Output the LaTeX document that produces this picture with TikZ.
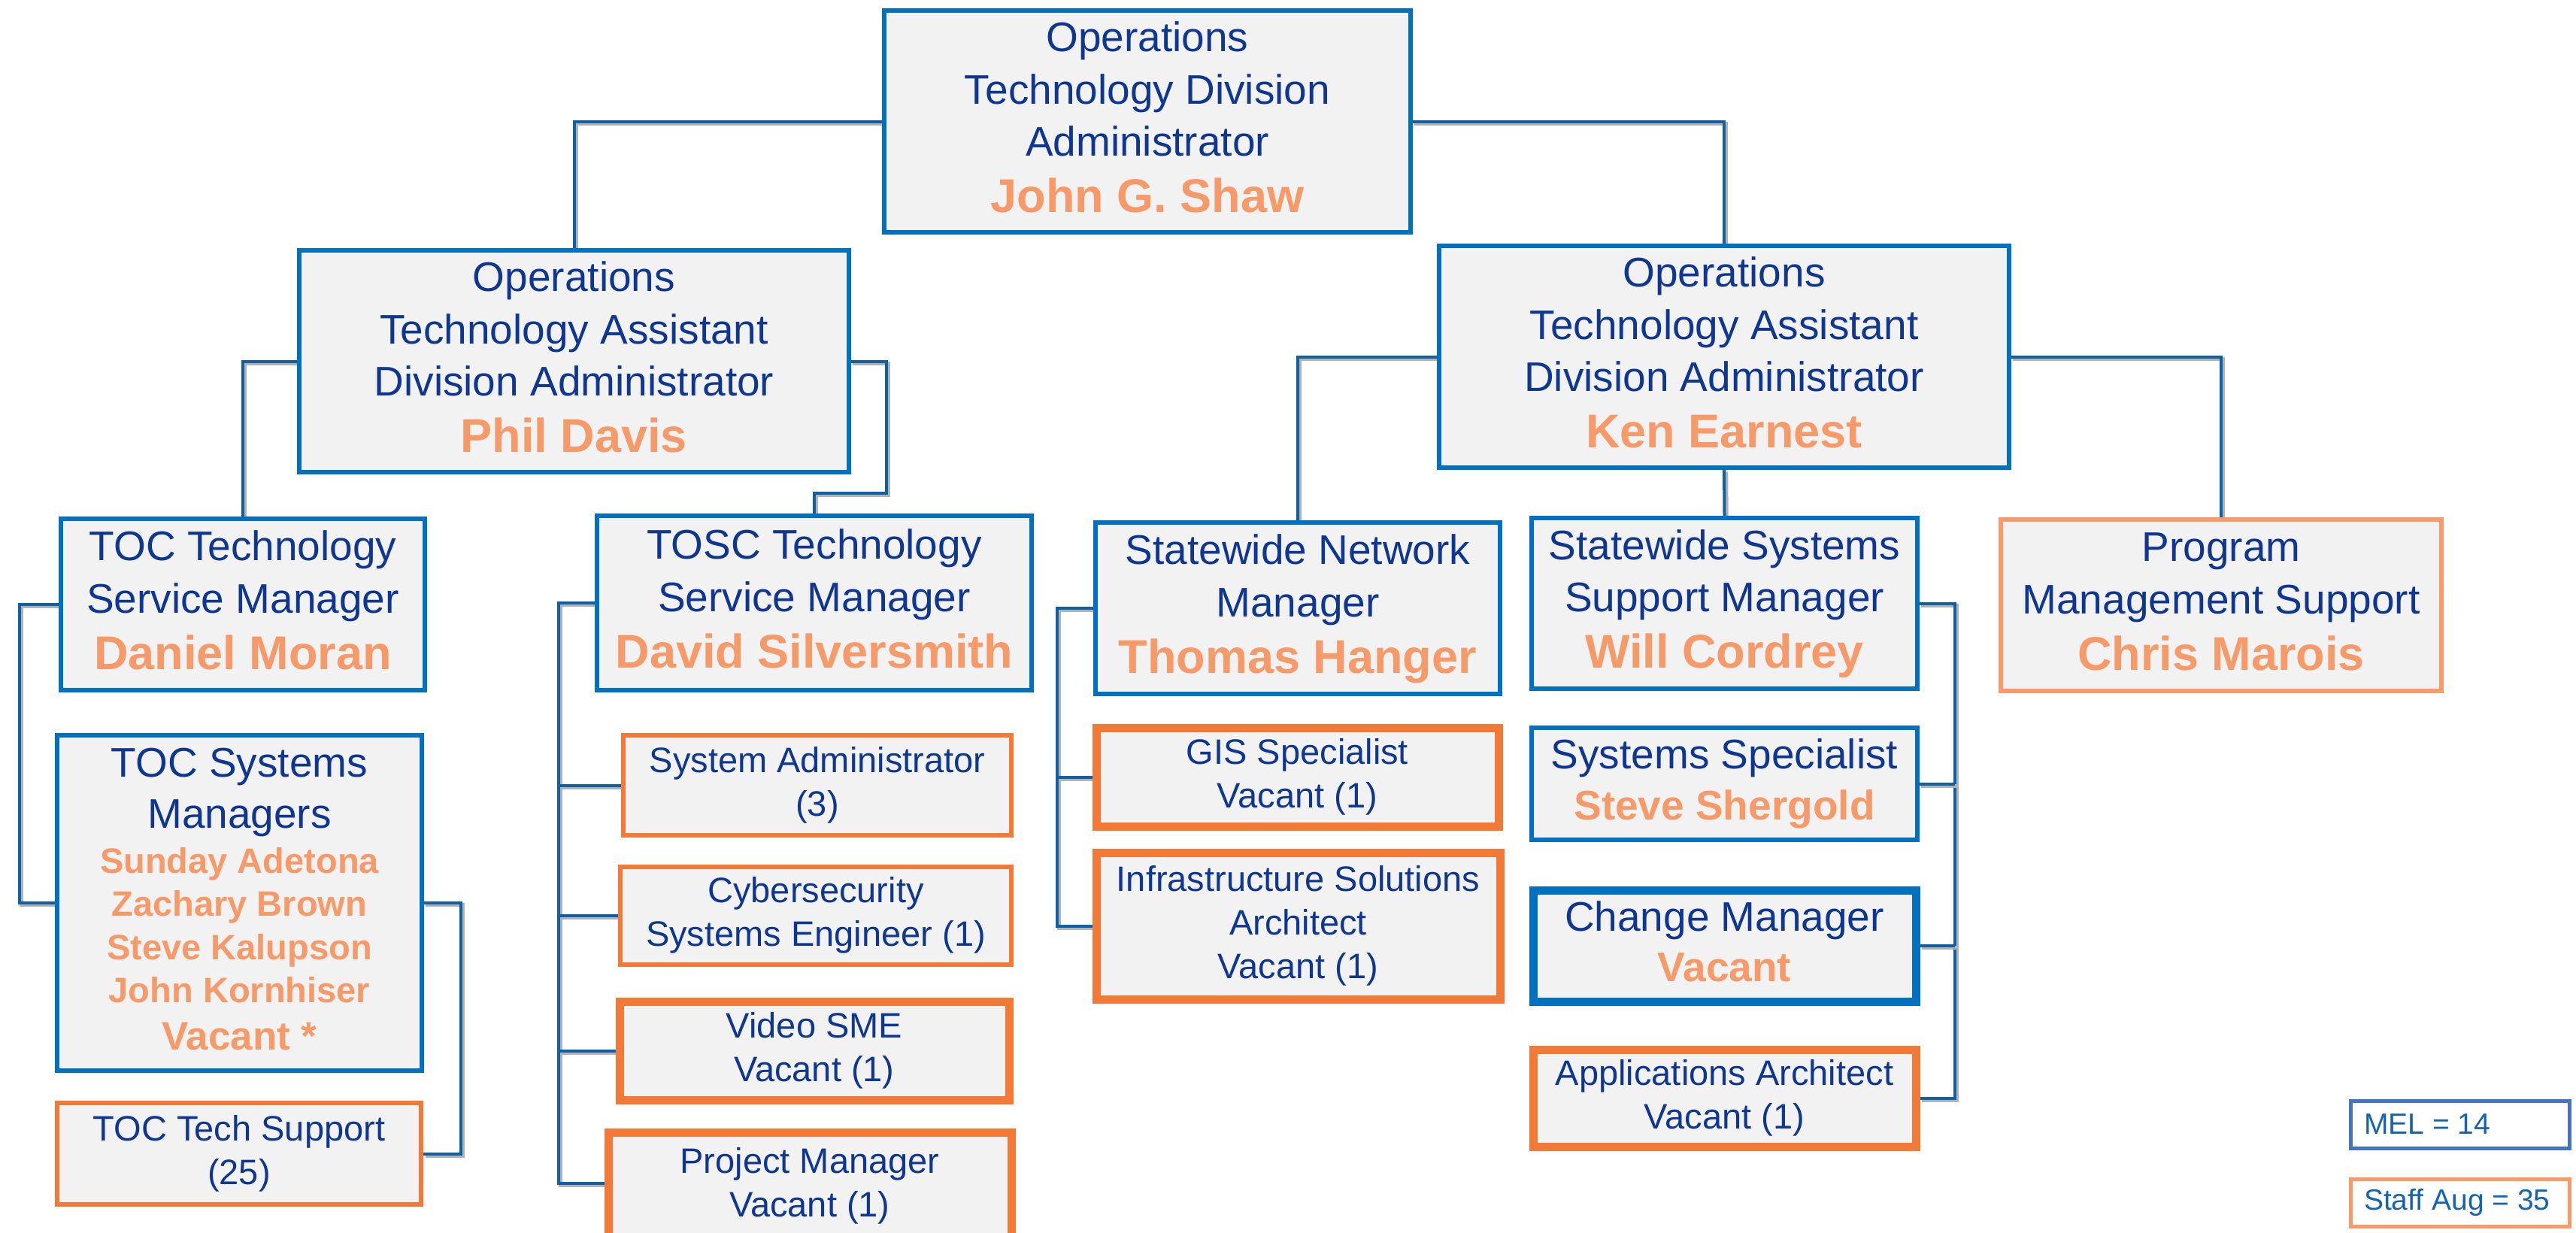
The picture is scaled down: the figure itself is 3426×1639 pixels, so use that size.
\documentclass[tikz,border=0pt]{standalone}
\usepackage{fontspec}
\setmainfont{Liberation Sans}
\usetikzlibrary{backgrounds}
\definecolor{navy}{RGB}{15,55,145}
\definecolor{nameor}{RGB}{247,154,105}
\definecolor{bordor}{RGB}{243,122,54}
\definecolor{ltor}{RGB}{247,155,107}
\definecolor{bordblue}{RGB}{0,112,192}
\definecolor{connblue}{RGB}{16,96,165}
\definecolor{boxfill}{RGB}{242,242,242}
\definecolor{melblue}{RGB}{68,114,196}
\definecolor{legtext}{RGB}{22,100,175}
\newcommand\fmain{\fontsize{13.75}{17.4}\selectfont}
\newcommand\fsmall{\fontsize{11.75}{14.5}\selectfont}
\newcommand\fnm{\fontsize{15.75}{17.4}\selectfont\bfseries\color{nameor}}
\newcommand\fnmm{\fontsize{13.75}{17.4}\selectfont\bfseries\color{nameor}}
\newcommand\fsn{\fontsize{11.75}{14}\selectfont\bfseries\color{nameor}}
\newcommand\fvac{\fontsize{13.25}{16}\selectfont\bfseries\color{nameor}}
\newcommand\lines[1]{\begin{tabular}{@{}c@{}}#1\end{tabular}}
\tikzset{
  bx/.style={draw, fill=boxfill, inner sep=0pt, text=navy, font=\fmain, anchor=center},
  bluebox/.style={bx, draw=bordblue, line width=1.3pt},
  bluethick/.style={bx, draw=bordblue, line width=2.75pt},
  orbox/.style={bx, draw=bordor, line width=1.4pt, font=\fsmall},
  orthick/.style={bx, draw=bordor, line width=2.75pt, font=\fsmall},
  ltorbox/.style={bx, draw=ltor, line width=1.3pt},
  legbox/.style={draw, fill=white, line width=1.25pt, inner sep=0pt, anchor=center,
    minimum width=72.75pt, minimum height=15.75pt, text=legtext, font=\fontsize{9.75}{11}\selectfont},
  conn/.style={draw=connblue, line width=1pt,
    preaction={draw=black!30, line width=1.2pt, transform canvas={shift={(0.7pt,-0.7pt)}}}},
}
\begin{document}
\begin{tikzpicture}[x=0.25pt,y=-0.25pt]
\useasboundingbox (0,0) rectangle (3426,1639);
\clip (0,0) rectangle (3426,1639);

% level 0
\node[bluebox, minimum width=175pt, minimum height=73.75pt] (top) at (1526,161.5)
  {\lines{Operations\\Technology Division\\Administrator\\[1.25pt]\fnm John G. Shaw}};

% level 1
\node[bluebox, minimum width=182.75pt, minimum height=73.75pt] (phil) at (763.5,480.5)
  {\lines{Operations\\Technology Assistant\\Division Administrator\\[1.25pt]\fnm Phil Davis}};
\node[bluebox, minimum width=189.5pt, minimum height=73.75pt] (ken) at (2293,474.5)
  {\lines{Operations\\Technology Assistant\\Division Administrator\\[1.25pt]\fnm Ken Earnest}};

% level 2
\node[bluebox, minimum width=121pt, minimum height=57pt] (toc) at (323,804)
  {\lines{TOC Technology\\Service Manager\\[1.25pt]\fnm Daniel Moran}};
\node[bluebox, minimum width=144.5pt, minimum height=58pt] (tosc) at (1083,802)
  {\lines{TOSC Technology\\Service Manager\\[1.25pt]\fnm David Silversmith}};
\node[bluebox, minimum width=134.5pt, minimum height=57pt] (net) at (1726,809)
  {\lines{Statewide Network\\Manager\\[1.25pt]\fnm Thomas Hanger}};
\node[bluebox, minimum width=128.25pt, minimum height=56.75pt] (sss) at (2293.5,802.5)
  {\lines{Statewide Systems\\Support Manager\\[1.25pt]\fnm Will Cordrey}};
\node[ltorbox, minimum width=146.5pt, minimum height=57pt] (pms) at (2954,805)
  {\lines{Program\\Management Support\\[1.25pt]\fnm Chris Marois}};

% TOC column
\node[bluebox, minimum width=121.25pt, minimum height=111.5pt] (tocsys) at (318.5,1201)
  {\lines{TOC Systems\\[-0.4pt]Managers\\[-2.4pt]\fsn Sunday Adetona\\[-3.1pt]\fsn Zachary Brown\\[-2.9pt]\fsn Steve Kalupson\\[-3.1pt]\fsn John Kornhiser\\[-1.6pt]\fvac Vacant *}};
\node[orbox, minimum width=121pt, minimum height=33.75pt] (tocsup) at (318,1534.5)
  {\lines{TOC Tech Support\\(25)}};

% TOSC column
\node[orbox, minimum width=129pt, minimum height=33.25pt] (sa) at (1087,1044.5)
  {\lines{System Administrator\\(3)}};
\node[orbox, minimum width=130pt, minimum height=32.5pt] (cyb) at (1085,1218)
  {\lines{Cybersecurity\\Systems Engineer (1)}};
\node[orthick, minimum width=129.5pt, minimum height=32.75pt] (vid) at (1083,1397.5)
  {\lines{Video SME\\Vacant (1)}};
\node[orthick, minimum width=134pt, minimum height=36pt] (pm) at (1077,1578)
  {\lines{Project Manager\\Vacant (1)}};

% Network column
\node[orthick, minimum width=133.75pt, minimum height=32.75pt] (gis) at (1725.5,1033.5)
  {\lines{GIS Specialist\\Vacant (1)}};
\node[orthick, minimum width=134.25pt, minimum height=48.75pt] (infra) at (1726.5,1231.5)
  {\lines{Infrastructure Solutions\\Architect\\Vacant (1)}};

% Systems support column
\node[bluebox, minimum width=128.25pt, minimum height=37.25pt] (ss) at (2293.5,1042.5)
  {\lines{Systems Specialist\\[-0.6pt]\fnmm Steve Shergold}};
\node[bluethick, minimum width=127.25pt, minimum height=37pt] (cm) at (2293.5,1258)
  {\lines{Change Manager\\[-0.8pt]\fnmm Vacant}};
\node[orthick, minimum width=127.25pt, minimum height=32.25pt] (aa) at (2293.5,1460.5)
  {\lines{Applications Architect\\Vacant (1)}};

% legend
\node[legbox, draw=melblue] (mel) at (3271.5,1495.5) {\hbox to 63.75pt{MEL = 14\hfil}};
\node[legbox, draw=ltor] (aug) at (3271.5,1599.5) {\hbox to 63.75pt{Staff Aug = 35\hfil}};

% connector helper coordinates
\coordinate (pj) at (1179,656);
\coordinate (tl) at (26,1000);
\coordinate (tr) at (613,1300);
\coordinate (tx) at (743,805);
\coordinate (tbot) at (743,1574);
\coordinate (nx) at (1406,808);
\coordinate (sx) at (2600,805);

\begin{scope}[on background layer]
\draw[conn] (top.west) -| (phil.north);
\draw[conn] (top.east) -| (ken.north);
\draw[conn] (phil.west) -| (toc.north);
\draw[conn] (phil.east) -| (pj) -| (tosc.north);
\draw[conn] (ken.west) -| (net.north);
\draw[conn] (ken.east) -| (pms.north);
\draw[conn] (ken.south) -- (sss.north);
\draw[conn] (toc.west) -| (tl) |- (tocsys.west);
\draw[conn] (tocsys.east) -| (tr) |- (tocsup.east);
\draw[conn] (tosc.west) -| (tbot) -- (pm.west |- tbot);
\draw[conn] (tx |- sa.west) -- (sa.west);
\draw[conn] (tx |- cyb.west) -- (cyb.west);
\draw[conn] (tx |- vid.west) -- (vid.west);
\draw[conn] (net.west) -| (nx |- infra.west) -- (infra.west);
\draw[conn] (nx |- gis.west) -- (gis.west);
\draw[conn] (sss.east) -| (sx |- aa.east) -- (aa.east);
\draw[conn] (sx |- ss.east) -- (ss.east);
\draw[conn] (sx |- cm.east) -- (cm.east);
\end{scope}
\end{tikzpicture}
\end{document}
